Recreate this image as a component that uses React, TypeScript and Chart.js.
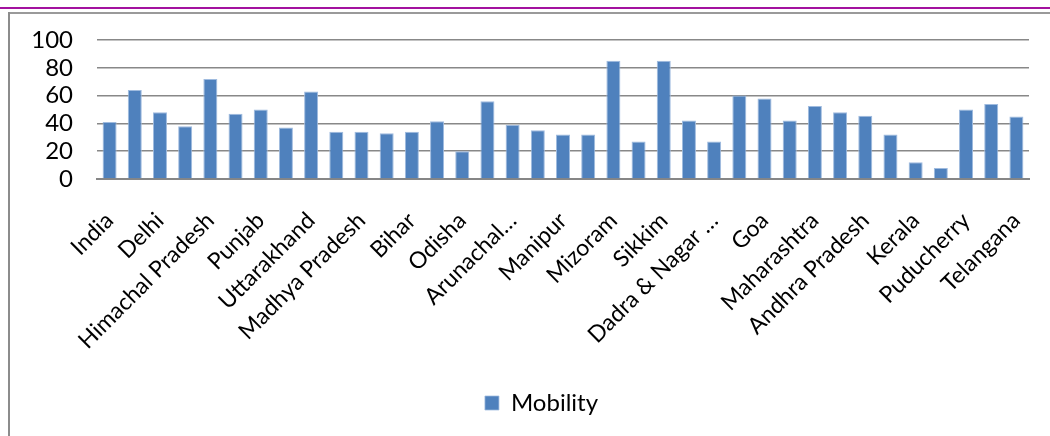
import React, { useEffect, useRef } from "react";
import { Chart, registerables } from "chart.js";

Chart.register(...registerables);

// Region-wise ordering of states / union territories
const categories: string[] = [
  "India", "Chandigarh", "Delhi", "Haryana", "Himachal Pradesh", "Jammu & Kashmir",
  "Punjab", "Rajasthan", "Uttarakhand", "Chhattisgarh", "Madhya Pradesh", "Uttar Pradesh",
  "Bihar", "Jharkhand", "Odisha", "West Bengal", "Arunachal Pradesh", "Assam",
  "Manipur", "Meghalaya", "Mizoram", "Nagaland", "Sikkim", "Tripura",
  "Dadra & Nagar Haveli", "Daman & Diu", "Goa", "Gujarat", "Maharashtra",
  "Andaman & Nicobar Islands", "Andhra Pradesh", "Karnataka", "Kerala", "Lakshadweep",
  "Puducherry", "Tamil Nadu", "Telangana",
];

// Every other category gets a visible label on the axis
const shownLabels: string[] = [
  "India", "Delhi", "Himachal Pradesh", "Punjab", "Uttarakhand", "Madhya Pradesh",
  "Bihar", "Odisha", "Arunachal…", "Manipur", "Mizoram", "Sikkim",
  "Dadra & Nagar …", "Goa", "Maharashtra", "Andhra Pradesh", "Kerala", "Puducherry",
  "Telangana",
];

const mobility: number[] = [
  41, 64, 48, 38, 72, 47, 50, 37, 63, 34,
  34, 33, 34, 41.5, 20, 56, 39, 35, 32, 32,
  85, 27, 85, 42, 27, 60, 58, 42, 52.5, 48,
  45.5, 32, 12, 8, 50, 54, 45,
];

const yTicks: number[] = [0, 20, 40, 60, 80, 100];

const FONT = "Lato, 'Open Sans', sans-serif";

export default function App() {
  const canvasRef = useRef<HTMLCanvasElement | null>(null);

  useEffect(() => {
    const canvas = canvasRef.current;
    if (!canvas) return;
    const chart = new Chart(canvas, {
      type: "bar",
      data: {
        labels: categories,
        datasets: [
          {
            label: "Mobility",
            data: mobility,
            backgroundColor: "#4F81BD",
            borderColor: "#9fbbdf",
            borderWidth: { top: 1, left: 1, right: 1, bottom: 0 },
            borderSkipped: "bottom",
            barPercentage: 0.556,
            categoryPercentage: 1,
          },
        ],
      },
      options: {
        responsive: false,
        animation: false,
        layout: { padding: { top: 26, right: 0, bottom: 11, left: 0 } },
        plugins: {
          tooltip: { enabled: false },
          legend: {
            position: "bottom",
            labels: {
              color: "#000",
              font: { family: FONT, size: 24 },
              boxWidth: 14,
              boxHeight: 14,
              padding: 10,
            },
          },
        },
        scales: {
          x: {
            grid: { display: false, drawTicks: false },
            border: { display: true, color: "#868686", width: 2 },
            ticks: {
              autoSkip: false,
              minRotation: 45,
              maxRotation: 45,
              padding: 28,
              color: "#000",
              font: { family: FONT, size: 23 },
              callback: (_v: any, i: number) => (i % 2 === 0 ? shownLabels[i / 2] : ""),
            },
            afterFit: (scale: any) => {
              scale.height = 202;
            },
          },
          y: {
            min: 0,
            max: 100,
            afterBuildTicks: (scale: any) => {
              scale.ticks = yTicks.map((v) => ({ value: v }));
            },
            grid: { color: "#888888", lineWidth: 1.6, drawTicks: false },
            border: { display: false },
            ticks: {
              autoSkip: false,
              padding: 24,
              color: "#000",
              font: { family: FONT, size: 24 },
            },
            afterFit: (scale: any) => {
              scale.width = 87;
              scale.paddingTop = 0;
              scale.paddingBottom = 0;
            },
          },
          // empty right-hand gutter so the legend stays centred on the whole frame
          gutter: {
            type: "linear",
            position: "right",
            display: true,
            grid: { display: false, drawTicks: false },
            border: { display: false },
            ticks: { display: false },
            afterFit: (scale: any) => {
              scale.width = 44;
              scale.paddingTop = 0;
              scale.paddingBottom = 0;
            },
          },
        },
      },
    });
    return () => chart.destroy();
  }, []);

  return (
    <div
      style={{
        position: "absolute",
        left: 0,
        top: 0,
        width: 1050,
        height: 436,
        overflow: "hidden",
        background: "#fff",
      }}
    >
      <div style={{ position: "absolute", left: 0, top: 7, width: 1050, height: 2, background: "#a3119f" }} />
      <div style={{ position: "absolute", left: 8, top: 12, width: 1042, height: 2, background: "#9a9a9a" }} />
      <div style={{ position: "absolute", left: 8, top: 12, width: 2, height: 424, background: "#8c8c8c" }} />
      <canvas
        ref={canvasRef}
        width={1063}
        height={422}
        style={{ position: "absolute", left: 10, top: 14, width: 1063, height: 422 }}
      />
    </div>
  );
}
